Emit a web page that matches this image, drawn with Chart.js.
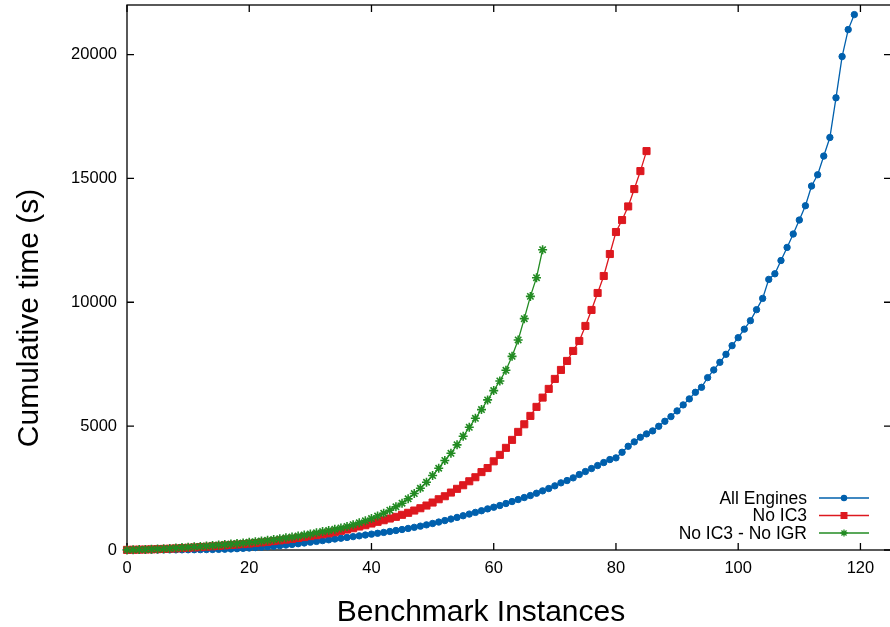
<!DOCTYPE html>
<html>
<head>
<meta charset="utf-8">
<script src="https://cdn.jsdelivr.net/npm/chart.js@4.4.1/dist/chart.umd.min.js"></script>
<style>
  html, body { margin: 0; padding: 0; overflow: hidden; background: #fff; }
</style>
</head>
<body>
<canvas id="cactus" width="891" height="627"></canvas>
<script>
// cumulative time (s) per solved benchmark instance, sorted
const allEngines = [
  0, 1, 1, 2, 2, 3, 4, 5, 6, 8,
  10, 12, 14, 17, 21, 26, 33, 42, 53, 66,
  80, 96, 114, 133, 154, 176, 200, 226, 254, 284,
  316, 348, 380, 412, 444, 476, 508, 540, 572, 605,
  640, 675, 710, 748, 787, 827, 870, 915, 963, 1015,
  1070, 1128, 1188, 1250, 1315, 1383, 1450, 1518, 1585, 1660,
  1727, 1795, 1876, 1956, 2037, 2118, 2198, 2291, 2388, 2481,
  2590, 2711, 2803, 2912, 3046, 3167, 3288, 3409, 3530, 3651,
  3719, 3945, 4187, 4365, 4550, 4687, 4808, 4994, 5196, 5385,
  5615, 5857, 6099, 6366, 6567, 6959, 7269, 7576, 7899, 8249,
  8572, 8915, 9258, 9702, 10157, 10924, 11150, 11685, 12215, 12755,
  13320, 13897, 14691, 15147, 15902, 16652, 18253, 19919, 21008, 21613
];
const noIC3 = [
  5, 10, 15, 20, 27, 35, 44, 54, 65, 77,
  90, 104, 118, 133, 150, 168, 186, 204, 222, 240,
  260, 282, 306, 332, 360, 388, 418, 450, 485, 522,
  560, 598, 636, 672, 719, 773, 827, 879, 948, 1000,
  1069, 1138, 1202, 1271, 1339, 1420, 1501, 1593, 1686, 1795,
  1916, 2049, 2170, 2319, 2469, 2614, 2775, 2937, 3145, 3308,
  3580, 3840, 4123, 4445, 4768, 5075, 5413, 5777, 6152, 6503,
  6906, 7269, 7632, 8035, 8439, 9044, 9690, 10375, 11061, 11948,
  12836, 13320, 13869, 14570, 15296, 16103
];
const noIC3NoIGR = [
  5, 10, 16, 22, 30, 40, 52, 65, 80, 96,
  112, 128, 144, 160, 178, 198, 218, 240, 262, 285,
  310, 336, 364, 393, 423, 455, 490, 527, 566, 607,
  650, 695, 742, 790, 840, 893, 950, 1020, 1100, 1180,
  1270, 1370, 1480, 1606, 1743, 1888, 2065, 2279, 2493, 2735,
  3005, 3300, 3615, 3905, 4244, 4591, 4954, 5317, 5668, 6059,
  6434, 6825, 7253, 7818, 8479, 9338, 10238, 10992, 12122
];
const seriesNames = ['All Engines', 'No IC3', 'No IC3 - No IGR'];
const xTicks = [0, 20, 40, 60, 80, 100, 120];
const yTicks = [0, 5000, 10000, 15000, 20000];

const toPoints = arr => arr.map((v, i) => ({ x: i, y: v }));
const tickFont = { family: '"Liberation Sans", Arial, sans-serif', size: 16.5 };

// gnuplot style frame: box with inward ticks on all four sides
const frame = {
  id: 'frame',
  beforeDatasetsDraw(chart) {
    const { ctx, chartArea: a, scales } = chart;
    ctx.save();
    ctx.strokeStyle = '#000';
    ctx.lineWidth = 1.3;
    ctx.strokeRect(a.left, a.top, a.right - a.left, a.bottom - a.top);
    ctx.beginPath();
    xTicks.forEach(t => {
      const px = scales.x.getPixelForValue(t);
      ctx.moveTo(px, a.bottom); ctx.lineTo(px, a.bottom - 7);
      ctx.moveTo(px, a.top); ctx.lineTo(px, a.top + 7);
    });
    yTicks.forEach(t => {
      const py = scales.y.getPixelForValue(t);
      ctx.moveTo(a.left, py); ctx.lineTo(a.left + 7, py);
      ctx.moveTo(a.right, py); ctx.lineTo(a.right - 7, py);
    });
    ctx.stroke();
    ctx.restore();
  },
  afterDraw(chart) {
    const { ctx, chartArea: a } = chart;
    ctx.save();
    ctx.fillStyle = '#000';
    ctx.font = '30px "Liberation Sans", Arial, sans-serif';
    ctx.textAlign = 'center';
    ctx.textBaseline = 'alphabetic';
    ctx.fillText('Benchmark Instances', 481, 621);
    ctx.translate(38, 318);
    ctx.rotate(-Math.PI / 2);
    ctx.fillText('Cumulative time (s)', 0, 0);
    ctx.restore();

    // legend, bottom right inside the plot
    ctx.save();
    ctx.font = '17.5px "Liberation Sans", Arial, sans-serif';
    ctx.textAlign = 'right';
    ctx.textBaseline = 'middle';
    chart.data.datasets.forEach((ds, i) => {
      const y = a.bottom - 52 + i * 17.5;
      const x0 = a.right - 72;
      ctx.fillStyle = '#000';
      ctx.fillText(ds.label, x0 - 12, y + 1);
      ctx.strokeStyle = ds.borderColor;
      ctx.fillStyle = ds.borderColor;
      ctx.lineWidth = 1.3;
      ctx.beginPath();
      ctx.moveTo(x0, y); ctx.lineTo(x0 + 50, y);
      ctx.stroke();
      Chart.helpers.drawPoint(ctx, {
        pointStyle: ds.pointStyle,
        radius: ds.pointRadius * 0.8,
        rotation: 0,
        borderWidth: ds.pointBorderWidth
      }, x0 + 25, y);
    });
    ctx.restore();
  }
};

new Chart(document.getElementById('cactus'), {
  type: 'line',
  data: {
    datasets: [
      {
        label: seriesNames[0],
        data: toPoints(allEngines),
        borderColor: '#0060ad',
        backgroundColor: '#0060ad',
        borderWidth: 1.3,
        pointStyle: 'circle',
        pointRadius: 3.2,
        pointBorderWidth: 1,
        order: 3,
        clip: false
      },
      {
        label: seriesNames[1],
        data: toPoints(noIC3),
        borderColor: '#dd181f',
        backgroundColor: '#dd181f',
        borderWidth: 1.3,
        pointStyle: 'rect',
        pointRadius: 5,
        pointBorderWidth: 1,
        order: 2,
        clip: false
      },
      {
        label: seriesNames[2],
        data: toPoints(noIC3NoIGR),
        borderColor: '#228b22',
        backgroundColor: '#228b22',
        borderWidth: 1.3,
        pointStyle: 'star',
        pointRadius: 4.5,
        pointBorderWidth: 1.6,
        order: 1,
        clip: false
      }
    ]
  },
  options: {
    responsive: false,
    animation: false,
    layout: { autoPadding: false, padding: { top: 5, right: 0, left: 0, bottom: 0 } },
    plugins: {
      legend: { display: false },
      tooltip: { enabled: false }
    },
    elements: { line: { tension: 0 } },
    scales: {
      x: {
        type: 'linear',
        min: 0,
        max: 125,
        grid: { display: false, drawTicks: false },
        border: { display: false },
        afterBuildTicks: s => { s.ticks = xTicks.map(v => ({ value: v })); },
        ticks: {
          padding: 9,
          color: '#000',
          font: tickFont,
          callback: v => String(v)
        },
        afterFit: s => {
          s.height = 77;
          s.paddingLeft = 0; s.paddingRight = 0;
        }
      },
      y: {
        type: 'linear',
        min: 0,
        max: 22000,
        grid: { display: false, drawTicks: false },
        border: { display: false },
        afterBuildTicks: s => { s.ticks = yTicks.map(v => ({ value: v })); },
        ticks: {
          padding: 10,
          color: '#000',
          font: tickFont,
          callback: v => String(v)
        },
        afterFit: s => {
          s.width = 127;
          s.paddingTop = 0; s.paddingBottom = 0;
        }
      }
    }
  },
  plugins: [frame]
});
</script>
</body>
</html>
